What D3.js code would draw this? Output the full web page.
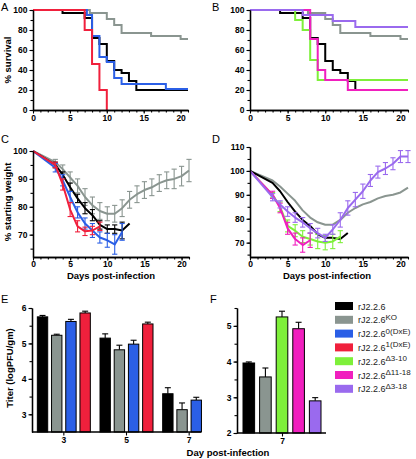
<!DOCTYPE html>
<html><head><meta charset="utf-8">
<script src="https://cdn.jsdelivr.net/npm/d3@7"></script>
<style>body{margin:0;background:#fff}svg{display:block;font-family:"Liberation Sans",Arial,Helvetica,sans-serif}</style>
</head><body><svg id="c" width="416" height="459"></svg>
<script>
// ---------- DATA ----------
// Survival (panels A, B): step curves, days and % survival
const survBlackDays = [0, 4, 7, 8, 9, 10, 11, 12, 13, 14, 21];
const survBlack     = [100, 97, 92, 72, 66, 49, 40, 37, 29, 20, 20];
const survGrayDays  = [0, 7.7, 10, 11, 12, 16, 20, 21];
const survGray      = [100, 97, 91, 85, 77, 74, 71, 71];
const survBlueDays  = [0, 7.3, 8, 9, 10, 11, 12, 18, 21];
const survBlue      = [100, 95, 74, 53, 48, 32, 26, 21, 21];
const survRedDays   = [0, 7, 8, 9, 10];
const survRed       = [100, 80, 46, 20, 0];
const survGreenDays = [0, 6, 7, 8, 9, 21];
const survGreen     = [100, 90, 80, 50, 30, 30];
const survMagentaDays = [0, 8, 9, 10, 13, 21];
const survMagenta     = [100, 71, 40, 30, 20, 20];
const survPurpleDays  = [0, 7, 11, 14, 21];
const survPurple      = [100, 95, 89, 83, 83];

// Weight (panels C, D): days, % starting weight, error
const wGrayDays = [0, 3, 4, 5, 6, 7, 8, 9, 10, 11, 12, 13, 14, 15, 16, 17, 18, 19, 20, 21];
const wGray     = [100, 96, 93.5, 90.5, 87.5, 83.5, 80.5, 78.5, 77.5, 77.5, 79.5, 82.5, 84.5, 86, 87, 88.5, 89.5, 90, 91, 93];
const wGrayErr  = [0, 1, 1.5, 2, 2.5, 3, 3, 3, 2.5, 3, 3, 3, 3, 3, 3, 3, 3, 3.5, 3.5, 4];
const wBlackDays = [0, 3, 4, 5, 6, 7, 8, 9, 10, 11, 12, 13];
const wBlack     = [100, 95, 91.5, 87, 83, 79.5, 77, 73.5, 72, 72, 71.5, 74];
const wBlackErr  = [0, 1, 1, 1.5, 1.5, 2, 2, 1.5, 1.5, 1.5, 3, 0];
const wBlueDays = [0, 3, 4, 5, 6, 7, 8, 9, 10, 11, 12];
const wBlue     = [100, 94, 89.5, 83.5, 78, 74, 71.5, 69, 68, 66.5, 71];
const wBlueErr  = [0, 1.5, 2, 2, 2, 2, 2.5, 2, 2.5, 3.5, 3];
const wRedDays = [0, 3, 4, 5, 6, 7, 8, 9];
const wRed     = [100, 95, 88, 79, 73, 71.2, 71.5, 73];
const wRedErr  = [0, 1, 2, 2.5, 2, 1.5, 1.5, 1.5];
const wGreenDays = [0, 3, 4, 5, 6, 7, 8, 9, 10, 11, 12];
const wGreen     = [100, 90, 85, 77, 75, 72.5, 71.5, 70.5, 70, 70.5, 72.5];
const wGreenErr  = [0, 1, 2, 2.5, 2.5, 2.5, 2.5, 3, 3, 3, 2.5];
const wMagentaDays = [0, 3, 4, 5, 6, 7, 8];
const wMagenta     = [100, 90, 84.5, 76, 71.5, 69, 71];
const wMagentaErr  = [0, 1.5, 2, 2.5, 2.5, 3, 3];
const wPurpleDays = [0, 3, 4, 5, 6, 7, 8, 9, 10, 11, 12, 13, 14, 15, 16, 17, 18, 19, 20, 21];
const wPurple     = [100, 89, 86, 83, 80.5, 78.5, 76, 74, 72, 75.5, 79.5, 84.5, 88, 91.5, 96, 99.5, 101, 103, 106, 106];
const wPurpleErr  = [0, 1.5, 1.5, 2, 2, 2, 2, 2, 1.5, 2, 3, 3, 3, 3, 2.5, 2.5, 2.5, 2.5, 2.5, 2.5];

// Titers (panels E, F)
const titerDaysE = ["3", "5", "7"];
const titerE_black = [5.75, 5.15, 3.58];
const titerE_blackErr = [0.04, 0.12, 0.17];
const titerE_gray = [5.23, 4.82, 3.13];
const titerE_grayErr = [0.03, 0.13, 0.19];
const titerE_blue = [5.62, 4.98, 3.40];
const titerE_blueErr = [0.06, 0.11, 0.08];
const titerE_red = [5.86, 5.55, null];
const titerE_redErr = [0.05, 0.05, null];
const titerDaysF = ["7"];
const titerF = [3.96, 3.57, 5.25, 4.92, 2.90];
const titerFErr = [0.03, 0.25, 0.16, 0.18, 0.09];

// Legend
const legendBase = ["rJ2.2.6", "rJ2.2.6", "rJ2.2.6", "rJ2.2.6", "rJ2.2.6", "rJ2.2.6", "rJ2.2.6"];
const legendSup  = ["", "KO", "0(DxE)", "1(DxE)", "\u03943-10", "\u039411-18", "\u03943-18"];

// Ticks
const dayMajor = [0, 5, 10, 15, 20];
const dayMinor = d3.range(0, 22);
const survMajor = [0, 20, 40, 60, 80, 100];
const survMinor = d3.range(0, 101, 10);

// ---------- STYLE ----------
const C = {
  black: "#000000", gray: "#8a9590", blue: "#2b5fe6", red: "#f0203c",
  green: "#7ef03a", magenta: "#f01fbe", purple: "#9a6aee"
};
const legendColors = [C.black, C.gray, C.blue, C.red, C.green, C.magenta, C.purple];

const svg = d3.select("#c");
const FS = 8.5;

function styleAxis(g) {
  g.select(".domain").attr("stroke", "#000").attr("stroke-width", 1.3);
  g.selectAll(".tick line").attr("stroke", "#000").attr("stroke-width", 1.1);
  g.selectAll(".tick text").attr("fill", "#000").attr("font-size", FS).attr("font-weight", "bold").attr("font-family", '"Liberation Sans",Arial,sans-serif');
}

function drawAxes(x, y, xMajor, xMinor, yMajor, yMinor, yFmt, xPad) {
  const x0 = x.range()[0], y0 = y.range()[0];
  if (xMinor) svg.append("g").attr("transform", `translate(0,${y0})`)
    .call(d3.axisBottom(x).tickValues(xMinor).tickSize(2.5).tickSizeOuter(0).tickFormat("")).call(styleAxis);
  if (xMajor) svg.append("g").attr("transform", `translate(0,${y0})`)
    .call(d3.axisBottom(x).tickValues(xMajor).tickSize(3.5).tickSizeOuter(0).tickPadding(xPad == null ? 1.5 : xPad).tickFormat(d3.format("d"))).call(styleAxis);
  svg.append("g").attr("transform", `translate(${x0},0)`)
    .call(d3.axisLeft(y).tickValues(yMinor).tickSize(2.5).tickSizeOuter(0).tickFormat("")).call(styleAxis);
  svg.append("g").attr("transform", `translate(${x0},0)`)
    .call(d3.axisLeft(y).tickValues(yMajor).tickSize(3.5).tickSizeOuter(0).tickPadding(2).tickFormat(yFmt || d3.format("d"))).call(styleAxis);
}

function label(txt, x, y) {
  svg.append("text").attr("x", x).attr("y", y).attr("font-size", 11).text(txt);
}
function title(txt, x, y, rot) {
  const t = svg.append("text").attr("text-anchor", "middle").attr("font-size", 9.5).attr("font-weight", "bold").text(txt);
  if (rot) t.attr("transform", `translate(${x},${y}) rotate(-90)`);
  else t.attr("x", x).attr("y", y);
}

function stepLine(x, y, days, vals, color) {
  const pts = days.map((d, i) => [d, vals[i]]);
  svg.append("path").datum(pts)
    .attr("d", d3.line().x(d => x(d[0])).y(d => y(d[1])).curve(d3.curveStepAfter))
    .attr("fill", "none").attr("stroke", color).attr("stroke-width", 2);
}

function weightLine(x, y, days, vals, errs, color) {
  const pts = days.map((d, i) => [d, vals[i], errs ? errs[i] : 0]);
  svg.append("path").datum(pts)
    .attr("d", d3.line().x(d => x(d[0])).y(d => y(d[1])))
    .attr("fill", "none").attr("stroke", color).attr("stroke-width", 2).attr("stroke-linejoin", "round");
  if (!errs) return;
  const g = svg.append("g").attr("stroke", color).attr("stroke-width", 1.1);
  pts.filter(d => d[2] > 0).forEach(d => {
    const cx = x(d[0]);
    g.append("line").attr("x1", cx).attr("x2", cx).attr("y1", y(d[1] - d[2])).attr("y2", y(d[1] + d[2]));
    g.append("line").attr("x1", cx - 2.6).attr("x2", cx + 2.6).attr("y1", y(d[1] - d[2])).attr("y2", y(d[1] - d[2]));
    g.append("line").attr("x1", cx - 2.6).attr("x2", cx + 2.6).attr("y1", y(d[1] + d[2])).attr("y2", y(d[1] + d[2]));
  });
}

// ---------- PANEL A ----------
{
  const x = d3.scaleLinear().domain([0, 21]).range([33, 188]);
  const y = d3.scaleLinear().domain([0, 100]).range([110, 10]);
  stepLine(x, y, survGrayDays, survGray, C.gray);
  stepLine(x, y, survBlackDays, survBlack, C.black);
  stepLine(x, y, survBlueDays, survBlue, C.blue);
  stepLine(x, y, survRedDays, survRed, C.red);
  drawAxes(x, y, dayMajor, dayMinor, survMajor, survMinor);
  label("A", 1, 11);
  title("% survival", 11, 60, true);
}
// ---------- PANEL B ----------
{
  const x = d3.scaleLinear().domain([0, 21]).range([250, 408]);
  const y = d3.scaleLinear().domain([0, 100]).range([110, 10]);
  stepLine(x, y, survGrayDays, survGray, C.gray);
  stepLine(x, y, survBlackDays, survBlack, C.black);
  stepLine(x, y, survGreenDays, survGreen, C.green);
  stepLine(x, y, survMagentaDays, survMagenta, C.magenta);
  stepLine(x, y, survPurpleDays, survPurple, C.purple);
  drawAxes(x, y, dayMajor, dayMinor, survMajor, survMinor);
  label("B", 212, 11);
}
// ---------- PANEL C ----------
{
  const x = d3.scaleLinear().domain([0, 21]).range([33, 189]);
  const y = d3.scaleLinear().domain([62, 100]).range([257, 151]);
  weightLine(x, y, wGrayDays, wGray, wGrayErr, C.gray);
  weightLine(x, y, wBlackDays, wBlack, wBlackErr, C.black);
  weightLine(x, y, wBlueDays, wBlue, wBlueErr, C.blue);
  weightLine(x, y, wRedDays, wRed, wRedErr, C.red);
  drawAxes(x, y, dayMajor, dayMinor, [70, 80, 90, 100], [65, 70, 75, 80, 85, 90, 95, 100], null, 0.5);
  label("C", 1, 143);
  title("% starting weight", 11, 202, true);
  title("Days post-infection", 111, 278.5);
}
// ---------- PANEL D ----------
{
  const x = d3.scaleLinear().domain([0, 21]).range([250, 408]);
  const y = d3.scaleLinear().domain([64, 110]).range([257, 147]);
  weightLine(x, y, wGrayDays, wGray, null, C.gray);
  weightLine(x, y, wBlackDays, wBlack, null, C.black);
  weightLine(x, y, wGreenDays, wGreen, wGreenErr, C.green);
  weightLine(x, y, wMagentaDays, wMagenta, wMagentaErr, C.magenta);
  weightLine(x, y, wPurpleDays, wPurple, wPurpleErr, C.purple);
  drawAxes(x, y, dayMajor, dayMinor, [70, 80, 90, 100, 110], [65, 70, 75, 80, 85, 90, 95, 100, 105, 110], null, 0.5);
  label("D", 212, 143);
  title("Days post-infection", 327, 278.5);
}

function bar(g, x, w, y, v, e, color) {
  if (v == null) return;
  const y0 = y.range()[0];
  if (e) {
    g.append("line").attr("x1", x + w / 2).attr("x2", x + w / 2).attr("y1", y(v)).attr("y2", y(v + e)).attr("stroke", "#000").attr("stroke-width", 1.1);
    g.append("line").attr("x1", x + w / 2 - 3).attr("x2", x + w / 2 + 3).attr("y1", y(v + e)).attr("y2", y(v + e)).attr("stroke", "#000").attr("stroke-width", 1.1);
  }
  g.append("rect").attr("x", x).attr("y", y(v)).attr("width", w).attr("height", y0 - y(v))
    .attr("fill", color).attr("stroke", "#000").attr("stroke-width", 1);
}

// ---------- PANEL E ----------
{
  const gx = d3.scaleBand().domain(titerDaysE).range([32, 220]).paddingInner(0).paddingOuter(0);
  const inner = d3.scaleBand().domain(d3.range(4)).range([-26, 27]).paddingInner(0.27);
  const y = d3.scaleLinear().domain([2.5, 6]).range([432, 308]);
  const g = svg.append("g");
  const series = [[titerE_black, titerE_blackErr, C.black], [titerE_gray, titerE_grayErr, C.gray],
                  [titerE_blue, titerE_blueErr, C.blue], [titerE_red, titerE_redErr, C.red]];
  titerDaysE.forEach((d, i) => {
    const cx = gx(d) + gx.bandwidth() / 2;
    series.forEach((s, j) => bar(g, cx + inner(j), inner.bandwidth(), y, s[0][i], s[1][i], s[2]));
  });
  const xa = svg.append("g").attr("transform", "translate(0,432)")
    .call(d3.axisBottom(d3.scalePoint().domain(titerDaysE).range([gx("3") + gx.bandwidth() / 2, gx("7") + gx.bandwidth() / 2]))
      .tickSize(3.5).tickSizeOuter(0).tickPadding(1.5)).call(styleAxis);
  xa.select(".domain").remove();
  svg.append("line").attr("x1", 32).attr("x2", 201).attr("y1", 432).attr("y2", 432).attr("stroke", "#000").attr("stroke-width", 1.3);
  svg.append("g").attr("transform", "translate(32,0)")
    .call(d3.axisLeft(y).tickValues([3, 3.5, 4, 4.5, 5, 5.5, 6]).tickSize(2.5).tickSizeOuter(0).tickFormat("")).call(styleAxis);
  svg.append("g").attr("transform", "translate(32,0)")
    .call(d3.axisLeft(y).tickValues([3, 4, 5, 6]).tickSize(3.5).tickSizeOuter(0).tickPadding(2).tickFormat(d3.format("d"))).call(styleAxis);
  label("E", 1, 303);
  title("Titer (logPFU/gm)", 13, 368, true);
  title("Day post-infection", 228, 456);
}
// ---------- PANEL F ----------
{
  const cx = 282;
  const inner = d3.scaleBand().domain(d3.range(5)).range([-39, 39]).paddingInner(0.3);
  const y = d3.scaleLinear().domain([2, 5.5]).range([433, 308]);
  const g = svg.append("g");
  const cols = [C.black, C.gray, C.green, C.magenta, C.purple];
  titerF.forEach((v, j) => bar(g, cx + inner(j), inner.bandwidth(), y, v, titerFErr[j], cols[j]));
  const xa = svg.append("g").attr("transform", "translate(0,433)")
    .call(d3.axisBottom(d3.scalePoint().domain(titerDaysF).range([cx, cx])).tickSize(3.5).tickSizeOuter(0).tickPadding(1.5)).call(styleAxis);
  xa.select(".domain").remove();
  svg.append("line").attr("x1", 237).attr("x2", 326).attr("y1", 433).attr("y2", 433).attr("stroke", "#000").attr("stroke-width", 1.3);
  svg.append("g").attr("transform", "translate(237,0)")
    .call(d3.axisLeft(y).tickValues([2, 2.5, 3, 3.5, 4, 4.5, 5, 5.5]).tickSize(2.5).tickSizeOuter(0).tickFormat("")).call(styleAxis);
  svg.append("g").attr("transform", "translate(237,0)")
    .call(d3.axisLeft(y).tickValues([2, 3, 4, 5]).tickSize(3.5).tickSizeOuter(0).tickPadding(2).tickFormat(d3.format("d"))).call(styleAxis);
  label("F", 210, 303);
}
// ---------- LEGEND ----------
{
  const lg = svg.append("g");
  legendBase.forEach((b, i) => {
    const ty = 302 + i * 13.8;
    lg.append("rect").attr("x", 335).attr("y", ty).attr("width", 18).attr("height", 8).attr("fill", legendColors[i]);
    const t = lg.append("text").attr("x", 358).attr("y", ty + 7.5).attr("font-size", 9).attr("fill", "#222");
    t.append("tspan").text(b);
    if (legendSup[i]) t.append("tspan").attr("dy", -3.5).attr("font-size", 8).text(legendSup[i]);
  });
}
</script></body></html>
